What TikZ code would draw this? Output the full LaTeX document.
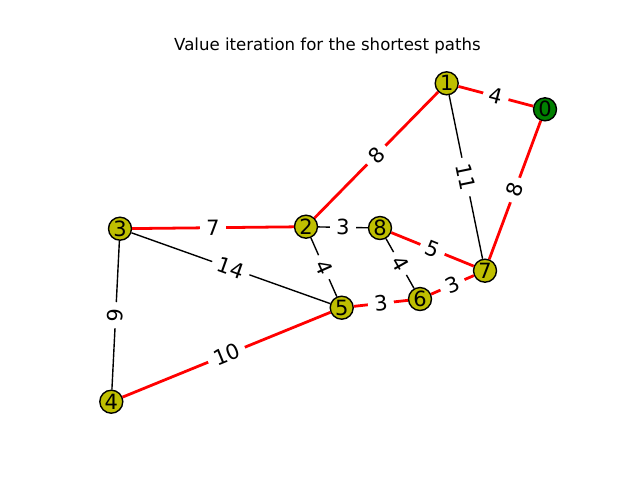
\documentclass[tikz,border=0pt]{standalone}
\usepackage{fontspec}
\setmainfont{DejaVu Sans}
\definecolor{yel}{RGB}{191,191,0}
\definecolor{grn}{RGB}{0,128,0}
\begin{document}
\begin{tikzpicture}[x=1pt,y=-1pt,
  vtx/.style={circle, draw=black, line width=1.39pt, fill=yel, minimum size=23pt, inner sep=0pt, font=\fontsize{21}{25}\selectfont},
  src/.style={vtx, fill=grn},
  redge/.style={draw=red, line width=2.78pt},
  bedge/.style={draw=black, line width=1.39pt},
  wt/.style={midway, sloped, fill=white, rounded corners=4pt, inner xsep=6.3pt, inner ysep=5pt, font=\fontsize{21}{25}\selectfont}
]
\useasboundingbox (0,0) rectangle (640,480);
\node[font=\fontsize{16.6}{20}\selectfont, anchor=base] (title) at (327.5,50) {Value iteration for the shortest paths};
\node[src] (n0) at (545,109.3) {0};
\node[vtx] (n1) at (446.7,83.3) {1};
\node[vtx] (n2) at (306,226.7) {2};
\node[vtx] (n3) at (120,228.7) {3};
\node[vtx] (n4) at (111.3,401.7) {4};
\node[vtx] (n5) at (341.7,307.7) {5};
\node[vtx] (n6) at (420,299) {6};
\node[vtx] (n7) at (485,270.7) {7};
\node[vtx] (n8) at (380,228) {8};
\draw[redge] (n1) -- (n0) node[wt] {4};
\draw[redge] (n1) -- (n2) node[wt] {8};
\draw[bedge] (n1) -- (n7) node[wt] {11};
\draw[redge] (n0) -- (n7) node[wt] {8};
\draw[redge] (n3) -- (n2) node[wt] {7};
\draw[bedge] (n3) -- (n5) node[wt] {14};
\draw[bedge] (n3) -- (n4) node[wt] {9};
\draw[bedge] (n2) -- (n8) node[wt] {3};
\draw[bedge] (n2) -- (n5) node[wt] {4};
\draw[redge] (n8) -- (n7) node[wt] {5};
\draw[bedge] (n8) -- (n6) node[wt] {4};
\draw[redge] (n5) -- (n6) node[wt] {3};
\draw[redge] (n6) -- (n7) node[wt] {3};
\draw[redge] (n4) -- (n5) node[wt] {10};
\end{tikzpicture}
\end{document}
